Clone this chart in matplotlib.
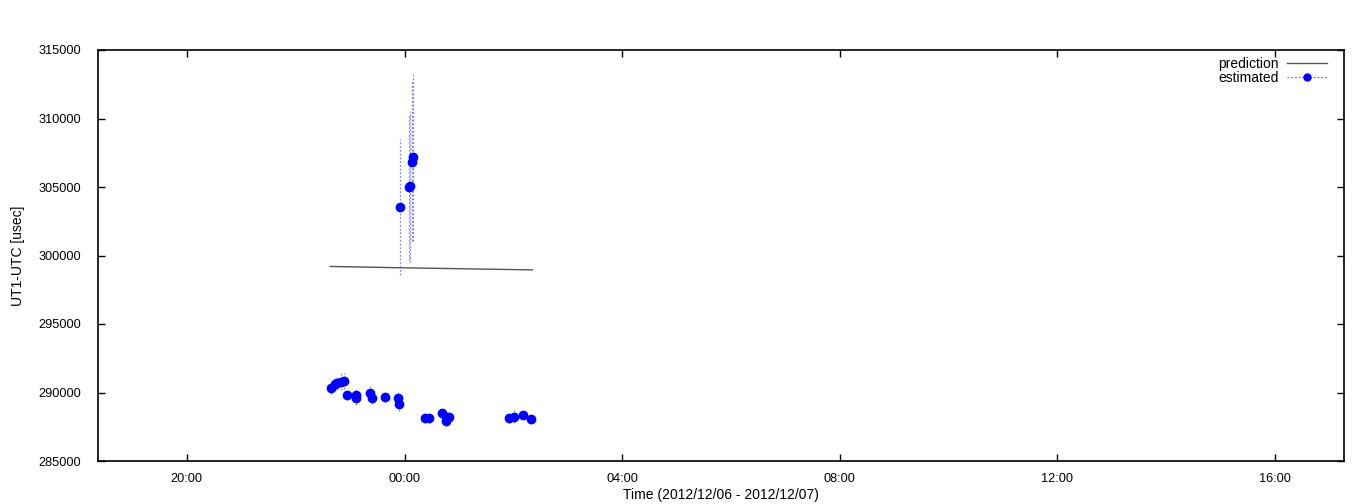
import matplotlib
matplotlib.use("Agg")
import matplotlib.pyplot as plt
import matplotlib.dates as mdates
from matplotlib.lines import Line2D
import pandas as pd

plt.rcParams['font.family'] = ['Liberation Sans', 'DejaVu Sans']

# prediction series
pred_times = ["2012-12-06 22:38", "2012-12-07 00:00", "2012-12-07 02:21"]
pred_values = [299200, 299100, 298950]

# estimated series
est_times = [
    "2012-12-06 22:39", "2012-12-06 22:43", "2012-12-06 22:46", "2012-12-06 22:50",
    "2012-12-06 22:53", "2012-12-06 22:57", "2012-12-06 23:06", "2012-12-06 23:07",
    "2012-12-06 23:22", "2012-12-06 23:24", "2012-12-06 23:38", "2012-12-06 23:53",
    "2012-12-06 23:54", "2012-12-06 23:55",
    "2012-12-07 00:05", "2012-12-07 00:06", "2012-12-07 00:08", "2012-12-07 00:09",
    "2012-12-07 00:23", "2012-12-07 00:27", "2012-12-07 00:41", "2012-12-07 00:46",
    "2012-12-07 00:49", "2012-12-07 00:46", "2012-12-07 01:55", "2012-12-07 02:01",
    "2012-12-07 02:11", "2012-12-07 02:20",
]
est_values = [
    290350, 290620, 290720, 290790,
    290840, 289840, 289840, 289600,
    289990, 289580, 289690, 289580,
    289160, 303540,
    305000, 305050, 306830, 307190,
    288160, 288160, 288480, 288240,
    288240, 287940, 288160, 288240,
    288360, 288070,
]
est_errors = [
    450, 500, 550, 600,
    550, 400, 450, 500,
    450, 400, 350, 450,
    500, 4960,
    5300, 5500, 5800, 6100,
    350, 350, 300, 400,
    350, 350, 400, 450,
    300, 350,
]

xt = pd.to_datetime(est_times)
pt = pd.to_datetime(pred_times)

fig = plt.figure(figsize=(13.68, 5.04), dpi=100)
ax = fig.add_axes([98/1368, 1-461/504, (1344-98)/1368, (461-50)/504])

ax.plot(pt, pred_values, color='#555555', lw=1.0)
eb = ax.errorbar(xt, est_values, yerr=est_errors, fmt='o', color='blue', ms=6,
                 ecolor=(0.3, 0.3, 1.0, 0.7), elinewidth=0.9, capsize=0, zorder=3)
for coll in eb[2]:
    coll.set_linestyle((0, (1.5, 1.5)))

ax.set_xlim(pd.Timestamp("2012-12-06 18:22"), pd.Timestamp("2012-12-07 17:16"))
ax.set_ylim(285000, 315000)
ax.set_yticks(range(285000, 315001, 5000))
ax.xaxis.set_major_locator(mdates.HourLocator(byhour=range(0, 24, 4)))
ax.xaxis.set_major_formatter(mdates.DateFormatter('%H:%M'))

ax.tick_params(direction='in', length=5, width=1, labelsize=9.2,
               top=True, right=True, pad=8.5, colors='black')
ax.tick_params(axis='y', pad=12)
for s in ax.spines.values():
    s.set_linewidth(1.2)
    s.set_color('black')

ax.set_xlabel('Time (2012/12/06 - 2012/12/07)', fontsize=10, labelpad=2)
ax.set_ylabel('UT1-UTC [usec]', fontsize=10, labelpad=10)

handles = [
    Line2D([], [], color='#555555', lw=1.0),
    Line2D([], [], color=(0.3, 0.3, 1.0, 0.8), lw=0.9, linestyle=(0, (1.5, 1.5)),
           marker='o', ms=5, markerfacecolor='blue', markeredgecolor='blue'),
]
ax.legend(handles, ['prediction', 'estimated'], loc='upper right', frameon=False,
          markerfirst=False, handlelength=2.9, fontsize=10, labelspacing=0.0,
          borderaxespad=0.1, handletextpad=0.6,
          bbox_to_anchor=(1 - 10/1246, 1.0))

fig.savefig('out.png', dpi=100)
